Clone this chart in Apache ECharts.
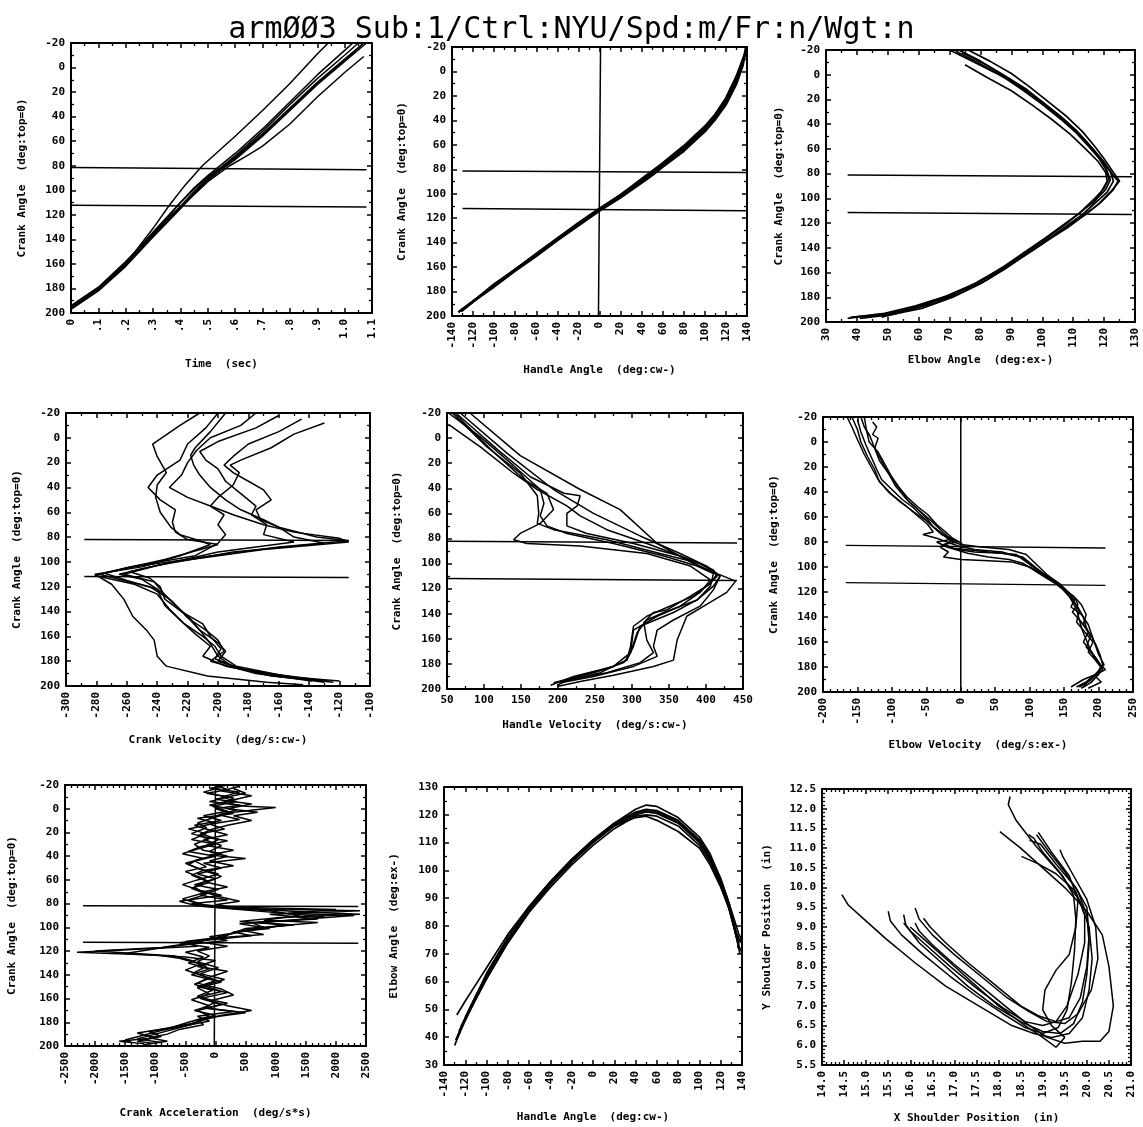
<!DOCTYPE html>
<html>
<head>
<meta charset="utf-8">
<title>arm003</title>
<script src="https://cdn.jsdelivr.net/npm/echarts@6/dist/echarts.min.js"></script>
<style>
  html, body { margin: 0; padding: 0; background: #fff; }
  #chart { width: 1143px; height: 1127px; }
</style>
</head>
<body>
<div id="chart"></div>
<script>
// title
const titleText = 'armØØ3 Sub:1/Ctrl:NYU/Spd:m/Fr:n/Wgt:n';

// axis ranges [min, max, interval]
const crankRange = [-20, 200, 20];
const timeRange = [0, 1.1, 0.1];
const handleAngleRange = [-140, 140, 20];
const elbowAngleRange = [30, 130, 10];
const crankVelRange = [-300, -100, 20];
const handleVelRange = [50, 450, 50];
const elbowVelRange = [-200, 250, 50];
const crankAccRange = [-2500, 2500, 500];
const xShoulderRange = [14, 21, 0.5];
const yShoulderRange = [5.5, 12.5, 0.5];

// panel 1: time (sec) vs crank angle
const timeTraces = [
  [[0,196],[0.1,180],[0.2,160],[0.3,131],[0.36,112],[0.42,95],[0.48,80],[0.55,66],[0.6,56],[0.7,35],[0.8,13],[0.9,-11],[0.94,-20]],
  [[0,195],[0.1,180],[0.2,159],[0.3,134],[0.35,122],[0.4,110],[0.45,99],[0.5,89],[0.55,81],[0.6,72],[0.7,52],[0.8,30],[0.9,9],[1.0,-10],[1.05,-20]],
  [[0,194],[0.1,179],[0.2,158],[0.3,135],[0.4,113],[0.45,101],[0.5,90],[0.55,82],[0.6,73],[0.7,54],[0.8,33],[0.9,12],[1.0,-7],[1.07,-20]],
  [[0,197],[0.1,182],[0.2,162],[0.3,138],[0.4,115],[0.45,103],[0.5,92],[0.55,83],[0.6,75],[0.7,56],[0.8,35],[0.9,14],[1.0,-5],[1.08,-20]],
  [[0,196],[0.1,181],[0.2,160],[0.3,137],[0.4,114],[0.5,91],[0.56,81],[0.6,74],[0.7,55],[0.8,34],[0.9,13],[1.0,-6],[1.07,-20]],
  [[0,195],[0.1,180],[0.2,160],[0.3,137],[0.4,114],[0.5,93],[0.58,80],[0.65,71],[0.7,64],[0.8,46],[0.9,24],[1.0,4],[1.07,-9]],
  [[0,196],[0.1,181],[0.2,161],[0.3,136],[0.4,110],[0.45,98],[0.5,88],[0.6,70],[0.7,50],[0.8,28],[0.9,6],[1.0,-14],[1.03,-20]]
];
const timeRefs = [[[0,81.4],[1.08,83.3]], [[0,112.3],[1.08,113.7]]];

// panel 2: handle angle vs crank angle
const handleAngleTraces = [
  [[-134,197],[-120,188],[-100,175],[-80,162],[-60,150],[-40,137],[-20,125],[0,113],[20,102],[40,89],[50,83],[60,76],[80,63],[100,47],[110,37],[120,24],[130,7],[136,-8],[140,-20]],
  [[-132,196],[-120,188],[-100,176],[-80,163],[-60,151],[-40,138],[-20,126],[0,114],[20,103],[40,91],[50,85],[60,78],[80,65],[100,49],[110,39],[120,27],[130,10],[136,-5],[139,-20]],
  [[-130,195],[-100,175],[-60,149],[-20,124],[0,112],[20,101],[40,88],[60,75],[80,61],[100,45],[110,35],[120,22],[130,4],[137,-12],[140,-18]],
  [[-131,196],[-100,174],[-60,150],[-20,125],[0,113],[20,101],[40,89],[60,76],[80,62],[100,46],[110,36],[120,23],[130,6],[137,-10],[140,-20]]
];
const handleAngleRefs = [[[-130,81.4],[140,82.7]], [[-130,112],[140,114]]];
const handleZeroLine = [[1,-20],[-1,200]];

// panel 3: elbow angle vs crank angle
const elbowAngleTraces = [
  [[70,-20],[78,-10],[86,0],[94,11],[100,22],[106,34],[111,45],[115,56],[118,66],[120.5,76],[121.5,84],[120,92],[117,100],[112,112],[107,121],[101,132],[94,144],[87,156],[79,168],[70,179],[60,188],[50,193],[40,196],[37,197]],
  [[73,-20],[80,-11],[88,1],[95,12],[101,24],[107,36],[112,48],[116,59],[119.5,69],[122,78],[123,86],[121,95],[117,104],[113,113],[108,122],[102,133],[95,145],[88,157],[80,169],[71,180],[61,189],[51,194],[41,197]],
  [[74,-18],[81,-9],[89,3],[96,15],[102,27],[108,39],[113,51],[117,62],[120,72],[122.5,80],[124.5,86],[123,93],[119,103],[114,113],[109,121],[103,131],[96,143],[89,155],[82,166],[74,176],[65,185],[55,191],[45,195],[38,196]],
  [[75,-8],[82,2],[90,13],[97,25],[103,36],[109,48],[114,60],[118,70],[120.5,79],[121,86],[119,95],[116,106],[113,114],[110,120],[104,130],[97,142],[90,153],[83,163],[76,172],[68,180],[60,187],[53,193],[48,196]],
  [[72,-19],[79,-10],[87,1],[94,13],[100,24],[106,36],[111,47],[115,58],[118.5,68],[121,78],[122,85],[120.5,93],[116.5,103],[112,112],[107,122],[101,133],[94,145],[86,158],[78,169],[69,179],[59,187],[49,193],[39,196]],
  [[76,-20],[83,-11],[90,-1],[96,10],[102,22],[108,34],[113,46],[117,58],[120,68],[123,79],[125,86],[122,95],[118,105],[114,113],[108,124],[101,135],[93,148],[85,160],[77,171],[68,181],[58,189],[47,195]]
];
const elbowAngleRefs = [[[37,81.2],[129,82.6]], [[37,111.4],[129,113]]];

// panel 4: crank velocity vs crank angle
const crankVelTraces = [
  [[-212,-20],[-225,-10],[-243,5],[-240,15],[-234,28],[-240,38],[-241,48],[-238,60],[-231,72],[-225,78],[-212,83],[-205,86],[-225,95],[-250,104],[-281,110],[-270,118],[-262,130],[-256,144],[-247,155],[-242,163],[-240,176],[-234,184],[-207,192],[-168,197],[-144,199]],
  [[-195,-20],[-205,-5],[-215,8],[-218,14],[-216,22],[-212,30],[-205,40],[-195,50],[-185,58],[-170,66],[-160,72],[-135,80],[-114,83],[-160,88],[-210,96],[-255,104],[-278,110],[-265,114],[-245,120],[-232,130],[-222,142],[-212,155],[-205,166],[-200,176],[-190,185],[-165,192],[-132,196]],
  [[-175,-20],[-185,-10],[-205,0],[-214,10],[-220,20],[-224,30],[-232,40],[-220,48],[-205,55],[-190,62],[-170,70],[-150,76],[-120,81],[-114,84],[-170,90],[-230,100],[-258,108],[-245,113],[-238,120],[-235,130],[-224,140],[-210,150],[-205,160],[-198,170],[-202,178],[-185,186],[-150,193],[-120,196]],
  [[-160,-18],[-175,-8],[-200,3],[-212,11],[-208,18],[-200,25],[-195,35],[-185,45],[-175,55],[-178,62],[-168,70],[-170,78],[-150,84],[-200,92],[-240,103],[-262,110],[-242,116],[-236,125],[-228,135],[-218,146],[-212,155],[-200,165],[-195,172],[-200,180],[-180,188],[-140,195],[-124,197]],
  [[-145,-15],[-160,-5],[-180,5],[-190,15],[-196,22],[-190,28],[-180,35],[-170,42],[-165,50],[-175,58],[-172,66],[-160,72],[-150,80],[-130,85],[-190,92],[-245,104],[-265,110],[-250,114],[-240,122],[-230,132],[-220,145],[-208,155],[-200,163],[-196,172],[-205,180],[-175,190],[-138,196]],
  [[-130,-12],[-150,-3],[-165,8],[-185,18],[-192,22],[-186,28],[-190,38],[-200,48],[-205,55],[-196,62],[-200,70],[-195,78],[-200,85],[-215,95],[-258,104],[-275,109],[-260,115],[-240,122],[-235,135],[-224,148],[-215,158],[-205,168],[-210,176],[-195,184],[-160,192],[-130,197]],
  [[-200,-20],[-208,-8],[-220,5],[-225,18],[-240,30],[-246,40],[-238,50],[-228,58],[-230,68],[-228,76],[-220,82],[-200,86],[-235,98],[-264,106],[-281,111],[-255,118],[-240,126],[-232,138],[-222,150],[-210,160],[-202,168],[-198,176],[-188,184],[-160,191],[-128,196]]
];
const crankVelRefs = [[[-288,82],[-114,82.7]], [[-288,111.7],[-114,112.5]]];

// panel 5: handle velocity vs crank angle
const handleVelTraces = [
  [[81,-20],[149,14],[230,41],[284,57],[334,84],[383,100],[415,108],[440,114],[428,123],[397,134],[374,142],[361,161],[356,177],[329,182],[275,189],[230,194],[199,198]],
  [[52,-20],[95,-1],[140,22],[176,41],[181,52],[176,62],[185,70],[212,76],[275,84],[343,94],[388,102],[410,108],[406,118],[388,129],[356,139],[311,150],[302,166],[293,177],[257,187],[203,195]],
  [[60,-20],[109,9],[154,33],[185,44],[194,57],[176,68],[149,76],[140,81],[158,84],[230,86],[320,92],[379,102],[406,113],[392,123],[365,134],[334,142],[302,153],[298,171],[275,182],[212,193],[199,197]],
  [[64,-19],[118,9],[163,31],[208,44],[230,46],[226,54],[212,60],[212,70],[239,76],[302,84],[365,94],[401,105],[419,110],[410,118],[388,129],[343,139],[320,145],[307,155],[298,171],[289,179],[248,187],[194,195]],
  [[57,-20],[104,7],[149,28],[172,46],[174,60],[172,68],[194,73],[266,81],[338,92],[392,100],[415,108],[406,116],[379,126],[347,137],[329,139],[316,147],[320,161],[329,171],[311,179],[266,187],[203,194]],
  [[68,-20],[131,12],[194,41],[248,60],[311,78],[365,92],[401,102],[419,110],[410,121],[392,134],[356,145],[334,153],[329,166],[334,174],[302,182],[248,190],[203,195]],
  [[52,-11],[95,7],[140,28],[172,41],[212,54],[230,62],[266,73],[320,84],[379,97],[410,105],[415,110],[401,118],[383,126],[351,134],[320,142],[302,150],[298,166],[293,177],[275,182],[221,190],[190,197]]
];
const handleVelRefs = [[[50,82.3],[442,83.6]], [[50,112],[442,113.6]]];

// panel 6: elbow velocity vs crank angle
const elbowVelTraces = [
  [[-165,-20],[-158,-12],[-150,-2],[-140,10],[-130,20],[-120,30],[-105,40],[-88,48],[-68,56],[-50,63],[-35,70],[-22,76],[-10,80],[0,82],[30,84],[70,86],[95,90],[110,98],[125,106],[140,112],[152,118],[160,126],[168,134],[172,142],[176,150],[182,158],[188,166],[195,174],[203,180],[200,186],[190,192],[175,197]],
  [[-158,-20],[-150,-10],[-145,0],[-135,12],[-125,22],[-118,32],[-100,42],[-82,50],[-65,58],[-48,66],[-40,72],[-55,74],[-35,77],[-20,80],[-5,83],[20,86],[60,88],[85,92],[105,100],[120,106],[135,112],[150,118],[165,124],[170,130],[162,136],[175,144],[185,152],[178,160],[190,168],[200,176],[206,182],[196,188],[204,192],[185,197]],
  [[-145,-20],[-140,-12],[-132,-5],[-125,5],[-118,15],[-105,25],[-95,35],[-80,45],[-62,54],[-45,62],[-30,70],[-18,76],[-5,80],[-25,82],[-10,85],[40,88],[80,90],[95,95],[110,102],[128,108],[145,114],[158,122],[165,128],[172,136],[168,144],[180,152],[192,160],[185,168],[198,176],[210,182],[196,186],[178,190],[160,196]],
  [[-128,-16],[-122,-12],[-128,-6],[-120,-3],[-125,5],[-115,15],[-105,25],[-95,33],[-85,40],[-75,48],[-60,55],[-48,62],[-40,68],[-25,74],[-15,78],[-35,80],[-20,84],[10,89],[40,92],[70,94],[90,97],[105,102],[122,108],[140,114],[155,120],[165,126],[160,132],[175,138],[185,146],[190,154],[195,162],[200,170],[208,178],[200,184],[190,190],[172,196]],
  [[-150,-18],[-145,-8],[-138,2],[-130,12],[-122,22],[-115,30],[-100,38],[-85,46],[-70,52],[-55,60],[-40,68],[-28,74],[-10,78],[-30,84],[-18,88],[-25,92],[0,94],[40,95],[75,96],[100,100],[118,106],[135,112],[148,118],[158,124],[170,132],[178,140],[182,148],[188,156],[182,164],[195,172],[205,180],[195,186],[182,192],[168,196]],
  [[-140,-20],[-137,-10],[-133,0],[-120,8],[-110,18],[-100,28],[-90,36],[-78,44],[-62,52],[-48,58],[-35,66],[-22,72],[-12,77],[-2,80],[5,83],[-5,86],[20,88],[60,89],[90,92],[108,100],[124,107],[138,113],[152,118],[165,124],[175,130],[182,138],[178,146],[188,154],[196,162],[202,170],[206,178],[198,185],[186,190],[178,196]]
];
const elbowVelRefs = [[[-167,82.7],[210,84.8]], [[-167,112.5],[210,114.7]]];
const elbowVelZeroLine = [[0,-20],[0,200]];

// panel 7: crank acceleration vs crank angle
const crankAccTraces = [
  [[0,-20],[200,-16],[-150,-13],[300,-9],[150,-5],[500,-2],[1000,-1],[300,3],[0,7],[-300,12],[-150,16],[-400,21],[-100,25],[-350,30],[-200,35],[100,38],[-300,43],[-450,47],[-200,52],[-400,56],[-150,61],[-350,66],[-200,71],[-550,76],[-300,80],[-100,82],[300,84],[2400,86],[900,89],[1700,93],[600,96],[800,100],[300,104],[150,108],[-500,112],[-300,116],[-2300,121],[-700,124],[-400,128],[-150,133],[-350,138],[-100,143],[-350,148],[-50,153],[-300,158],[0,163],[-200,168],[300,171],[-300,175],[-100,179],[-500,183],[-900,187],[-1200,191],[-1500,195],[-1400,197]],
  [[200,-20],[-100,-17],[400,-14],[100,-10],[350,-6],[-50,-2],[200,2],[-200,6],[100,10],[-350,14],[-100,18],[-300,23],[200,27],[-250,32],[-450,36],[0,40],[-350,44],[-150,49],[-500,53],[-250,58],[-100,62],[-400,67],[-150,72],[-450,77],[-200,81],[500,84],[1500,87],[2400,89],[1000,92],[400,95],[1200,98],[600,102],[200,106],[-100,110],[-600,113],[-100,117],[-500,121],[-200,125],[-450,130],[-100,135],[-400,140],[0,145],[-300,150],[200,155],[-250,160],[100,165],[-300,170],[-100,175],[-450,180],[-700,184],[-1100,188],[-900,192],[-1300,196],[-1000,198]],
  [[400,-19],[100,-15],[600,-11],[250,-7],[-100,-3],[350,1],[50,5],[400,9],[-100,13],[150,17],[-250,21],[50,26],[-150,31],[300,35],[-100,39],[500,42],[-200,46],[100,50],[-300,55],[0,59],[-350,64],[50,68],[-250,73],[200,77],[-400,80],[0,83],[900,86],[1400,90],[800,94],[1700,96],[1000,99],[500,103],[800,106],[0,109],[-300,112],[200,116],[-300,120],[-100,124],[-300,129],[50,134],[-250,139],[150,144],[-200,149],[100,154],[-300,159],[200,164],[-150,168],[500,172],[-100,176],[-400,181],[-800,185],[-1300,189],[-1000,193],[-1600,196],[-1200,198]],
  [[100,-18],[-200,-14],[200,-10],[-100,-6],[400,-3],[0,0],[300,4],[-300,8],[0,12],[-450,17],[-150,21],[-400,26],[0,30],[-300,34],[-550,38],[-200,42],[-500,46],[-250,51],[50,55],[-300,60],[-550,64],[-250,69],[100,73],[-600,78],[-300,82],[200,84],[1100,88],[1800,91],[1300,94],[400,97],[900,101],[300,104],[600,107],[-200,111],[-500,114],[-900,117],[-2000,120],[-1000,123],[-600,126],[-250,131],[-500,136],[-200,141],[100,146],[-300,151],[-100,156],[-400,161],[-100,166],[-350,170],[0,174],[-300,178],[-200,182],[-600,186],[-800,190],[-1100,193],[-800,196],[-1200,199]],
  [[300,-17],[500,-13],[0,-8],[600,-4],[200,0],[700,3],[300,6],[600,10],[200,14],[-100,18],[200,22],[-200,26],[100,31],[-100,36],[200,40],[-100,44],[300,48],[-200,52],[100,57],[-150,62],[200,66],[-200,70],[50,74],[400,78],[0,81],[300,83],[2000,85],[1200,88],[2300,90],[1500,93],[700,96],[1300,98],[500,101],[300,105],[-100,108],[200,111],[-400,114],[-1000,118],[-1500,122],[-500,125],[0,128],[-300,133],[200,137],[-100,142],[-300,147],[100,152],[300,157],[-100,162],[200,166],[600,170],[100,174],[-200,178],[-400,182],[-700,186],[-1000,190],[-1300,194],[-900,197]]
];
const crankAccRefs = [[[-2200,81.7],[2370,82.5]], [[-2200,112.6],[2370,113.4]]];
const crankAccZeroLine = [[0,-20],[-20,200]];

// panel 8: handle angle vs elbow angle
const elbowHandleTraces = [
  [[-130,37],[-125,42],[-120,47],[-110,55],[-100,62],[-80,75],[-60,86],[-40,95],[-20,103],[0,110],[20,116],[40,120],[50,121],[60,120.5],[80,117],[100,110],[110,104],[120,95],[128,86],[133,79],[136,74],[138,70]],
  [[-128,48],[-120,53],[-110,59],[-100,65],[-80,77],[-60,87],[-40,96],[-20,104],[0,111],[20,117],[40,122],[50,123.5],[60,123],[80,119],[100,112],[110,106],[120,97],[128,88],[133,82],[137,77],[140,75]],
  [[-127,40],[-120,46],[-110,54],[-100,61],[-80,74],[-60,85],[-40,94],[-20,102],[0,109],[20,115],[40,119.5],[50,120],[60,119.5],[80,116],[100,109],[110,103],[120,95],[128,86],[134,77],[137,73],[139,71]],
  [[-124,44],[-115,50],[-100,61],[-80,74],[-60,85],[-40,95],[-20,103],[0,110],[20,116],[40,119],[50,119.5],[60,118],[80,114],[100,108],[110,102],[120,94],[128,86],[133,79],[137,72]],
  [[-129,39],[-120,47],[-110,55],[-100,63],[-80,76],[-60,87],[-40,96],[-20,104],[0,111],[20,117],[40,121],[50,122],[60,121.5],[80,118],[100,111],[110,105],[120,97],[128,88],[134,78],[139,74],[140,78]],
  [[-126,42],[-115,51],[-100,62],[-80,75],[-60,86],[-40,95.5],[-20,103.5],[0,110.5],[20,116.5],[40,120.5],[50,121.5],[60,121],[80,117.5],[100,110.5],[110,104.5],[120,96],[128,87],[133,80],[137,74],[136,72]]
];

// panel 9: X shoulder vs Y shoulder position
const shoulderTraces = [
  [[14.45,9.82],[14.6,9.55],[14.9,9.25],[15.45,8.7],[16.1,8.1],[16.8,7.5],[17.55,7.0],[18.3,6.5],[18.8,6.3],[19.2,6.2],[19.6,6.3],[19.9,6.7],[20.05,7.4],[20.12,8.2],[20.05,9.0],[19.85,9.65],[19.4,10.35],[18.85,11.05],[18.4,11.7],[18.22,12.1],[18.26,12.31]],
  [[15.5,9.4],[15.55,9.15],[15.8,8.8],[16.3,8.3],[16.9,7.75],[17.5,7.25],[18.1,6.8],[18.6,6.45],[19.0,6.3],[19.35,6.45],[19.55,6.9],[19.65,7.6],[19.72,8.4],[19.75,9.2],[19.7,9.8],[19.45,10.3],[19.0,10.9],[18.8,11.25],[18.68,11.34]],
  [[15.85,9.31],[15.9,9.05],[16.2,8.6],[16.7,8.1],[17.3,7.5],[17.9,7.0],[18.5,6.6],[19.0,6.35],[19.4,6.3],[19.7,6.55],[19.9,7.1],[20.0,7.8],[20.05,8.6],[20.0,9.3],[19.8,9.9],[19.5,10.4],[19.15,10.9],[18.86,11.34]],
  [[15.85,9.1],[16.0,8.9],[16.4,8.5],[16.9,8.0],[17.5,7.45],[18.1,6.95],[18.6,6.6],[19.0,6.5],[19.3,6.6],[19.55,7.0],[19.8,7.8],[19.95,8.6],[19.95,9.3],[19.75,9.9],[19.3,10.35],[18.9,10.6],[18.52,10.79]],
  [[16.11,9.48],[16.2,9.2],[16.5,8.8],[17.0,8.3],[17.6,7.75],[18.2,7.2],[18.7,6.85],[19.1,6.6],[19.5,6.55],[19.8,6.8],[20.1,7.4],[20.25,8.2],[20.2,9.0],[20.0,9.7],[19.7,10.3],[19.45,10.8],[19.39,10.96]],
  [[16.3,9.22],[16.45,9.0],[16.8,8.6],[17.3,8.1],[17.9,7.55],[18.5,7.0],[18.9,6.75],[19.3,6.6],[19.6,6.7],[19.85,7.2],[20.0,8.0],[20.05,8.8],[20.0,9.5],[19.75,10.0],[19.3,10.6],[18.95,11.1],[18.7,11.2]],
  [[16.11,9.1],[16.2,8.9],[16.5,8.55],[17.0,8.05],[17.6,7.5],[18.2,6.95],[18.7,6.5],[19.1,6.2],[19.5,6.05],[19.9,6.1],[20.3,6.1],[20.5,6.35],[20.6,7.0],[20.5,8.0],[20.35,8.8],[20.0,9.4],[19.5,10.0],[19.0,10.5],[18.5,11.0],[18.03,11.42]],
  [[16.0,9.0],[16.3,8.7],[16.8,8.2],[17.4,7.6],[18.0,7.0],[18.6,6.5],[19.0,6.2],[19.3,5.95],[19.5,6.2],[19.2,6.5],[19.0,6.9],[19.05,7.4],[19.3,7.9],[19.6,8.3],[19.75,9.0],[19.8,9.7],[19.6,10.3],[19.2,10.9],[18.9,11.4]]
];

// ---- build ----
const FONT = 'DejaVu Sans Mono';
const fmtInt = v => String(Math.round(v));
const fmtTime = v => { if (Math.abs(v) < 1e-9) return '0'; const s = v.toFixed(1); return s.charAt(0) === '0' ? s.slice(1) : s; };
const fmt1 = v => v.toFixed(1);

const crankY = (gap) => ({ range: crankRange, minor: 2, inverse: true, fmt: fmtInt, name: 'Crank Angle  (deg:top=0)', gap });

const panels = [
  { rect: [71, 43, 301, 270], traces: timeTraces, refs: timeRefs,
    x: { range: timeRange, minor: 2, rotate: 90, fmt: fmtTime, name: 'Time  (sec)', gap: 46 }, y: crankY(43) },
  { rect: [452, 47, 295, 269], traces: handleAngleTraces, refs: handleAngleRefs.concat([handleZeroLine]), width: 2.4,
    x: { range: handleAngleRange, minor: 2, rotate: 90, fmt: fmtInt, name: 'Handle Angle  (deg:cw-)', gap: 49 }, y: crankY(44) },
  { rect: [826, 50, 309, 272], traces: elbowAngleTraces, refs: elbowAngleRefs, width: 1.7,
    x: { range: elbowAngleRange, minor: 2, rotate: 90, fmt: fmtInt, name: 'Elbow Angle  (deg:ex-)', gap: 33 }, y: crankY(41) },
  { rect: [66, 413, 304, 273], traces: crankVelTraces, refs: crankVelRefs,
    x: { range: crankVelRange, minor: 2, rotate: 90, fmt: fmtInt, name: 'Crank Velocity  (deg/s:cw-)', gap: 49 }, y: crankY(43) },
  { rect: [447, 413, 296, 276], traces: handleVelTraces, refs: handleVelRefs,
    x: { range: handleVelRange, minor: 2, rotate: 0, fmt: fmtInt, name: 'Handle Velocity  (deg/s:cw-)', gap: 31 }, y: crankY(44) },
  { rect: [823, 417, 310, 275], traces: elbowVelTraces, refs: elbowVelRefs.concat([elbowVelZeroLine]),
    x: { range: elbowVelRange, minor: 5, rotate: 90, fmt: fmtInt, name: 'Elbow Velocity  (deg/s:ex-)', gap: 48 }, y: crankY(43) },
  { rect: [65, 785, 301, 261], traces: crankAccTraces, refs: crankAccRefs.concat([crankAccZeroLine]),
    x: { range: crankAccRange, minor: 5, rotate: 90, fmt: fmtInt, name: 'Crank Acceleration  (deg/s*s)', gap: 62 }, y: crankY(47) },
  { rect: [444, 787, 298, 278], traces: elbowHandleTraces, refs: [], width: 1.7,
    x: { range: handleAngleRange, minor: 2, rotate: 90, fmt: fmtInt, name: 'Handle Angle  (deg:cw-)', gap: 47 },
    y: { range: elbowAngleRange, minor: 2, inverse: false, fmt: fmtInt, name: 'Elbow Angle  (deg:ex-)', gap: 44 } },
  { rect: [822, 789, 309, 276], traces: shoulderTraces, refs: [],
    x: { range: xShoulderRange, minor: 5, rotate: 90, fmt: fmt1, name: 'X Shoulder Position  (in)', gap: 48 },
    y: { range: yShoulderRange, minor: 5, inverse: false, fmt: fmt1, name: 'Y Shoulder Position  (in)', gap: 49 } }
];

const grid = [], xAxis = [], yAxis = [], series = [];
const lineCol = '#000';

function makeAxis(dim, spec, gridIndex, mirror) {
  const a = {
    type: 'value', gridIndex,
    min: spec.range[0], max: spec.range[1], interval: spec.range[2],
    position: dim === 'x' ? (mirror ? 'top' : 'bottom') : (mirror ? 'right' : 'left'),
    inverse: !!spec.inverse,
    axisLine: { show: true, onZero: false, lineStyle: { color: lineCol, width: 2 } },
    axisTick: { show: true, inside: true, length: 5, lineStyle: { color: lineCol, width: 1.5 } },
    minorTick: { show: true, splitNumber: spec.minor, length: 3, lineStyle: { color: lineCol, width: 1.3 } },
    splitLine: { show: false },
    minorSplitLine: { show: false },
    axisPointer: { show: false }
  };
  if (mirror) {
    a.axisLabel = { show: false };
  } else {
    a.axisLabel = {
      show: true, color: '#000', fontFamily: FONT, fontWeight: 'bold', fontSize: 11,
      margin: 6, rotate: dim === 'x' ? spec.rotate : 0, formatter: spec.fmt,
      showMinLabel: true, showMaxLabel: true, hideOverlap: false
    };
    a.name = spec.name;
    a.nameLocation = 'middle';
    a.nameGap = spec.gap;
    a.nameRotate = dim === 'y' ? 90 : 0;
    a.nameTextStyle = { color: '#000', fontFamily: FONT, fontWeight: 'bold', fontSize: 11 };
  }
  return a;
}

panels.forEach((p, i) => {
  grid.push({ left: p.rect[0], top: p.rect[1], width: p.rect[2], height: p.rect[3], show: false, containLabel: false });
  xAxis.push(makeAxis('x', p.x, i, false), makeAxis('x', p.x, i, true));
  yAxis.push(makeAxis('y', p.y, i, false), makeAxis('y', p.y, i, true));
  const base = { type: 'line', xAxisIndex: 2 * i, yAxisIndex: 2 * i, showSymbol: false, symbol: 'none',
    silent: true, animation: false, clip: true, z: 3 };
  p.traces.forEach(t => series.push(Object.assign({}, base, { data: t, lineStyle: { color: lineCol, width: p.width || 1.5 } })));
  p.refs.forEach(r => series.push(Object.assign({}, base, { data: r, lineStyle: { color: lineCol, width: 1.5 } })));
});

const chart = echarts.init(document.getElementById('chart'), null, { renderer: 'canvas' });
chart.setOption({
  backgroundColor: '#fff',
  animation: false,
  title: {
    text: titleText, left: 'center', top: 10,
    textStyle: { color: '#000', fontFamily: FONT, fontWeight: 'normal', fontSize: 30 }
  },
  grid, xAxis, yAxis, series
});
</script>
</body>
</html>
